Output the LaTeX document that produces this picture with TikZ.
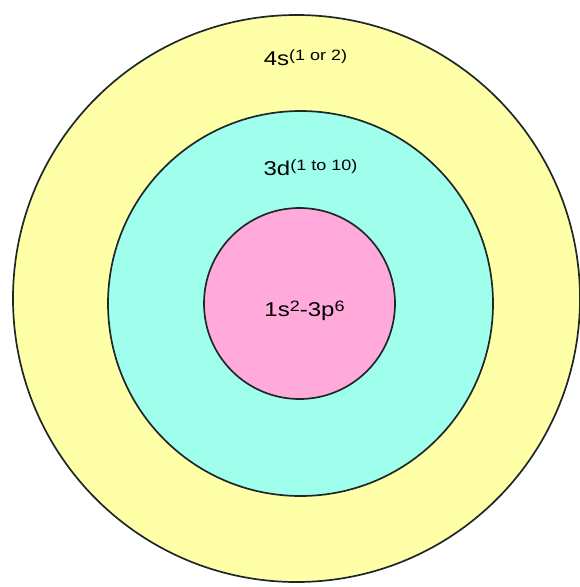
\documentclass[tikz,border=0pt]{standalone}
\usepackage{fontspec}
\setmainfont{Liberation Sans}
\usepackage{graphicx}
\usepackage{tikz}
\usetikzlibrary{positioning}
\definecolor{ShellYellow}{RGB}{255,255,168}
\definecolor{ShellAqua}{RGB}{160,255,236}
\definecolor{CorePink}{RGB}{255,170,218}
\definecolor{RimColor}{RGB}{30,40,40}
\tikzset{shell/.style={draw=RimColor,line width=1.7pt},
	shelltext/.style={anchor=base,inner sep=0pt,font=\fontsize{20}{23}\selectfont}}
\newcommand{\occ}[1]{\raisebox{4.5pt}{\fontsize{15}{17}\selectfont #1}}
\newcommand{\wide}[1]{\scalebox{1.2}[1]{#1}}
\begin{document}
\begin{tikzpicture}[x=1pt,y=-1pt]
	\useasboundingbox[fill=white] (0,0) rectangle (580,587);
	\coordinate (outer) at (296.5,298.5);
	\coordinate (middle) at (300.5,303.5);
	\coordinate (inner) at (299.5,303.5);
	\draw[shell,fill=ShellYellow] (outer) circle [radius=283.5pt];
	\draw[shell,fill=ShellAqua] (middle) circle [radius=192.5pt];
	\draw[shell,fill=CorePink] (inner) circle [radius=95.5pt];
	\node[shelltext] (s4) at (305.5,65) {\wide{4s\occ{(1 or 2)}}};
	\node[shelltext] (d3) at (310.5,175) {\wide{3d\occ{(1 to 10)}}};
	\node[shelltext] (core) at (304.5,316) {\wide{1s\occ{2}-3p\occ{6}}};
\end{tikzpicture}
\end{document}
